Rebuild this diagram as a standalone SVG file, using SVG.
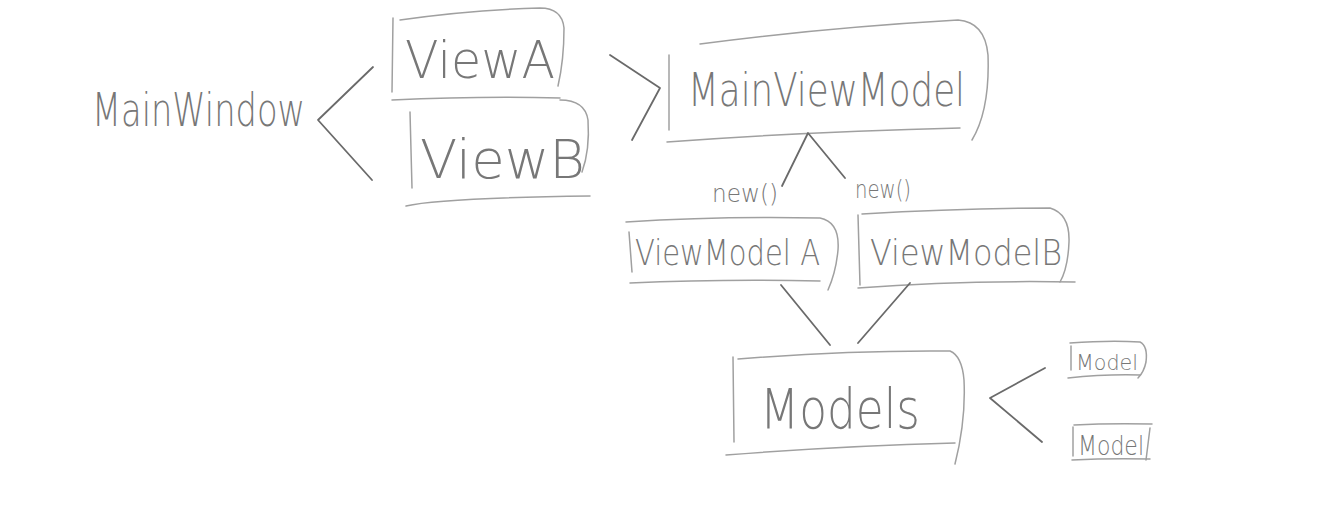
<svg xmlns="http://www.w3.org/2000/svg" width="1329" height="531" viewBox="0 0 1329 531">
<style>
.bx{fill:none;stroke:#a0a0a0;stroke-width:1.5;stroke-linecap:round;stroke-linejoin:round}
.cn{fill:none;stroke:#6a6a6a;stroke-width:1.8;stroke-linecap:round;stroke-linejoin:round}
.t{font-family:"DejaVu Sans","Liberation Sans",Arial,sans-serif;fill:#777777;font-weight:200}
</style>
<rect width="1329" height="531" fill="#ffffff"/>
<g id="MainWindow">
<text class="t" x="92" y="126" font-size="46" textLength="213" lengthAdjust="spacingAndGlyphs">MainWindow</text>
</g>
<g id="ViewA">
<path class="bx" d="M393 18 L392 92"/>
<path class="bx" d="M400 20 Q470 10 540 8 Q562 8 564 28 Q564 60 558 86"/>
<path class="bx" d="M392 100 Q480 96 560 98"/>
<text class="t" x="405" y="78" font-size="52" textLength="150" lengthAdjust="spacingAndGlyphs">ViewA</text>
</g>
<g id="ViewB">
<path class="bx" d="M410 112 L412 188"/>
<path class="bx" d="M560 100 Q585 100 588 120 Q590 150 582 172"/>
<path class="bx" d="M406 206 Q440 198 590 196"/>
<text class="t" x="420" y="178" font-size="54" textLength="165" lengthAdjust="spacingAndGlyphs">ViewB</text>
</g>
<g id="MainViewModel">
<path class="bx" d="M669 55 L669 130"/>
<path class="bx" d="M700 44 Q820 28 958 20 Q985 22 988 55 Q990 110 972 140"/>
<path class="bx" d="M667 142 Q800 132 960 128"/>
<text class="t" x="688" y="106" font-size="46" textLength="277" lengthAdjust="spacingAndGlyphs">MainViewModel</text>
</g>
<g id="ViewModelA">
<path class="bx" d="M629 232 L632 272"/>
<path class="bx" d="M626 222 Q720 216 820 218 Q840 222 838 250 Q836 272 828 290"/>
<path class="bx" d="M630 283 Q720 279 820 281"/>
<text class="t" x="635" y="265" font-size="36" textLength="185" lengthAdjust="spacingAndGlyphs">ViewModel A</text>
</g>
<g id="ViewModelB">
<path class="bx" d="M858 215 L860 285"/>
<path class="bx" d="M862 214 Q960 208 1050 208 Q1070 214 1069 242 Q1068 268 1060 282"/>
<path class="bx" d="M858 288 Q960 280 1075 282"/>
<text class="t" x="870" y="265" font-size="36" textLength="192" lengthAdjust="spacingAndGlyphs">ViewModelB</text>
</g>
<g id="Models">
<path class="bx" d="M733 357 L734 442"/>
<path class="bx" d="M738 359 Q850 350 950 351 Q962 356 964 380 Q966 420 955 464"/>
<path class="bx" d="M726 455 Q840 446 955 443"/>
<text class="t" x="760" y="428" font-size="56" textLength="160" lengthAdjust="spacingAndGlyphs">Models</text>
</g>
<g id="Model1">
<path class="bx" d="M1071 346 L1071 370"/>
<path class="bx" d="M1070 343 Q1110 340 1140 342 Q1148 346 1146 362 Q1144 372 1138 378"/>
<path class="bx" d="M1068 378 Q1105 374 1140 375"/>
<text class="t" x="1076" y="370" font-size="22" textLength="62" lengthAdjust="spacingAndGlyphs">Model</text>
</g>
<g id="Model2">
<path class="bx" d="M1073 427 L1073 456"/>
<path class="bx" d="M1074 425 Q1110 423 1152 424"/>
<path class="bx" d="M1150 428 L1146 460"/>
<path class="bx" d="M1072 460 Q1110 458 1150 459"/>
<text class="t" x="1078" y="455" font-size="26" textLength="66" lengthAdjust="spacingAndGlyphs">Model</text>
</g>
<g id="connectors">
<path class="cn" d="M373 67 L318 120 L372 180"/>
<path class="cn" d="M610 55 L660 88 L632 140"/>
<path class="cn" d="M782 186 L808 133 L845 178"/>
<path class="cn" d="M781 285 L830 345"/>
<path class="cn" d="M910 283 L858 343"/>
<path class="cn" d="M1045 368 L990 398 L1042 442"/>
<text class="t" x="712" y="202" font-size="24" textLength="66" lengthAdjust="spacingAndGlyphs">new()</text>
<text class="t" x="855" y="198" font-size="24" textLength="56" lengthAdjust="spacingAndGlyphs">new()</text>
</g>
</svg>
